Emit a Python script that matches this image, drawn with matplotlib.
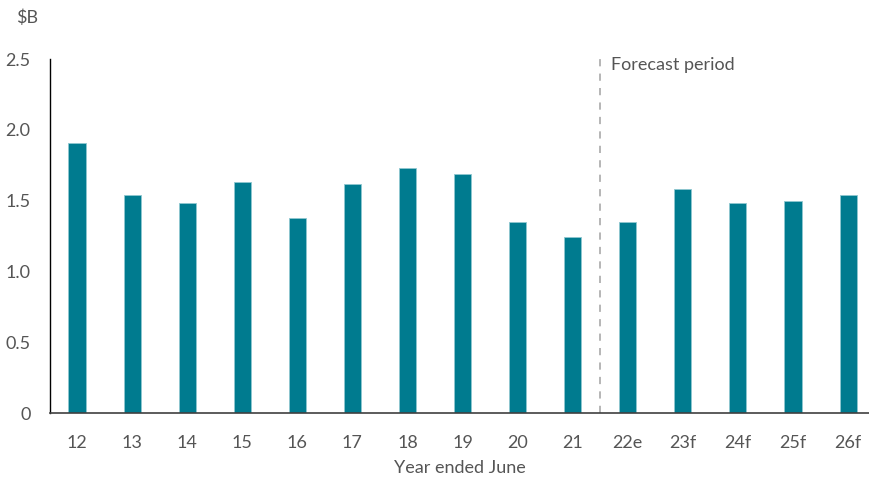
import matplotlib.pyplot as plt

plt.rcParams['font.family'] = ['Lato', 'DejaVu Sans']

# values ($B, year ended June)
years = ['12', '13', '14', '15', '16', '17', '18', '19', '20', '21',
         '22e', '23f', '24f', '25f', '26f']
values = [1.91, 1.54, 1.48, 1.63, 1.38, 1.62, 1.73, 1.69, 1.35, 1.24,
          1.35, 1.58, 1.48, 1.50, 1.54]
forecast_start = '22e'

bar_color = '#007B8F'
text_color = '#555555'

fig = plt.figure(figsize=(8.69, 4.79), dpi=100)
ax = fig.add_axes([50 / 869, 66 / 479, 819 / 869, 354 / 479])

xs = range(len(years))
ax.bar(xs, values, width=0.31, color=bar_color, edgecolor='#8fc7d0', linewidth=0.6)

split = years.index(forecast_start) - 0.5
ax.axvline(split, color='#b0b0b0', linestyle=(0, (4, 4)), linewidth=1.3, ymin=0, ymax=1.01, clip_on=False)
ax.text(split + 0.2, 2.46, 'Forecast period', color=text_color, fontsize=13,
        va='center', ha='left')

ax.set_xlim(-0.49, len(years) - 0.62)
ax.set_ylim(0, 2.5)
ax.set_yticks([0, 0.5, 1.0, 1.5, 2.0, 2.5])
ax.set_yticklabels(['0', '0.5', '1.0', '1.5', '2.0', '2.5'])
ax.set_xticks(list(xs))
ax.set_xticklabels(years)
ax.tick_params(axis='both', length=0, labelsize=13, labelcolor=text_color)
ax.tick_params(axis='y', pad=14)
ax.tick_params(axis='x', pad=16)

for side in ['top', 'right']:
    ax.spines[side].set_visible(False)
ax.spines['left'].set_color('#000000')
ax.spines['left'].set_linewidth(1.0)
ax.spines['bottom'].set_color('#404040')
ax.spines['bottom'].set_linewidth(1.2)

ax.set_xlabel('Year ended June', fontsize=13, color=text_color, labelpad=6)
fig.text(16 / 869, 1 - 18 / 479, '$B', fontsize=13, color=text_color,
         va='center', ha='left')

fig.savefig('out.png', dpi=100)
